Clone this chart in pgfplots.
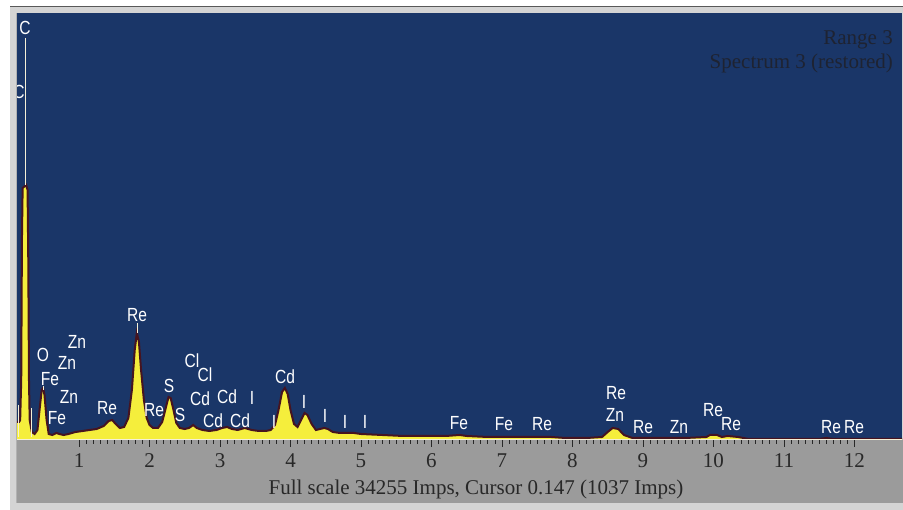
\documentclass[border=0pt]{standalone}
\usepackage{pgfplots}
\pgfplotsset{compat=1.18}
\usepackage{pgfplotstable}
\usepackage{fontspec}
\setmainfont{Liberation Serif}
\newfontfamily\lab[FakeStretch=0.82]{Liberation Sans}
\definecolor{bg}{RGB}{26,54,104}
\definecolor{yel}{RGB}{245,238,60}
\definecolor{outl}{RGB}{70,20,32}
\definecolor{panel}{RGB}{155,155,155}
\definecolor{framec}{RGB}{212,212,212}
\definecolor{txt}{RGB}{40,40,40}
\definecolor{rng}{RGB}{30,35,50}
\definecolor{cream}{RGB}{245,240,215}

\pgfplotstableread{
x y
0.12 18
0.15 18
0.165 20
0.18 60
0.19 200
0.20 252
0.25 255
0.27 250
0.28 180
0.29 60
0.30 20
0.33 8
0.37 6
0.41 10
0.44 30
0.47 50
0.49 52
0.51 45
0.54 20
0.57 6
0.62 5
0.68 7
0.72 6
0.78 5
0.85 6
0.95 8
1.05 9
1.15 10
1.25 11
1.35 14
1.42 19
1.47 20
1.52 16
1.58 12
1.64 13
1.70 22
1.75 50
1.79 90
1.82 107
1.85 98
1.88 70
1.92 40
1.96 22
2.00 15
2.05 12
2.12 12
2.18 18
2.23 32
2.27 43
2.30 42
2.34 30
2.38 17
2.43 12
2.50 11
2.56 12
2.62 15
2.67 12
2.75 10
2.85 9
2.95 10
3.03 12
3.10 13
3.17 11
3.25 10
3.35 12
3.45 10
3.55 9
3.65 9
3.72 10
3.78 15
3.83 30
3.88 48
3.92 52
3.96 46
4.00 30
4.05 16
4.10 13
4.15 20
4.20 27
4.24 25
4.30 16
4.36 10
4.42 11
4.48 12
4.53 11
4.60 8
4.70 7
4.80 7
4.90 7
5.00 6
5.30 5
5.60 4
5.90 4
6.20 4
6.40 5
6.50 4
6.80 3
7.10 3
7.40 3
7.70 3
7.90 2
8.20 2
8.42 3
8.50 8
8.57 12
8.65 11
8.73 5
8.85 2
9.20 2
9.60 2
9.90 3
9.95 5
10.05 5
10.12 3
10.20 4
10.35 3
10.50 1
11.00 1
11.50 1
11.60 2
11.70 1
12.00 1
12.675 1
}\spec

\newcommand{\lbl}[3]{\node[text=white, font=\lab\fontsize{19}{19}\selectfont, inner sep=0pt] at (#1pt,{(510-#2)*1pt}) {#3};}
\newcommand{\mk}[3]{\draw[cream, line width=1pt] (#1pt,{(510-#2)*1pt}) -- (#1pt,{(510-#3)*1pt});}

\begin{document}
\begin{tikzpicture}
\useasboundingbox (0,0) rectangle (903pt,510pt);
\fill[white] (0,0) rectangle (903pt,510pt);
\fill[framec] (10pt,0pt) rectangle (903pt,503pt);
\draw[gray!70!black, line width=1pt] (10pt,503pt) -- (903pt,503pt);
\draw[gray!60, line width=1pt] (16pt,7pt) -- (16pt,497pt);
\fill[panel] (17pt,7pt) rectangle (903pt,70pt);
\begin{axis}[
  at={(17pt,70pt)}, anchor=south west,
  scale only axis, width=885pt, height=427pt,
  xmin=0.12, xmax=12.675, ymin=0, ymax=427,
  axis background/.style={fill=bg},
  axis line style={draw=none},
  ytick=\empty,
  xtick={1,...,12}, minor x tick num=9,
  xtick pos=bottom, tick align=outside,
  major tick length=7pt, minor tick length=4pt,
  tick style={color=txt, line width=0.8pt},
  /pgf/number format/assume math mode=true,
  xticklabel style={font=\fontsize{21}{21}\selectfont, text=txt, anchor=base, yshift=-21pt},
]
\addplot[fill=yel, draw=none] table[x=x,y=y] {\spec} \closedcycle;
\addplot[outl, line width=2pt] table[x=x,y=y] {\spec};
\draw[cream, line width=1.5pt] (axis cs:0.12,0) -- (axis cs:12.675,0);
\end{axis}
\node[anchor=base east, text=rng, font=\fontsize{21}{21}\selectfont, inner sep=0pt] at (893pt,{(510-45)*1pt}) {Range 3};
\node[anchor=base east, text=rng, font=\fontsize{21}{21}\selectfont, inner sep=0pt] at (893pt,{(510-69)*1pt}) {Spectrum 3 (restored)};
\node[anchor=base, text=txt, font=\fontsize{21}{21}\selectfont, inner sep=0pt] at (476pt,{(510-495)*1pt}) {Full scale 34255 Imps, Cursor 0.147 (1037 Imps)};
\mk{25.5}{38}{185}
\mk{137}{323}{333}
\mk{18}{405}{437}
\mk{31}{408}{437}
\mk{43}{386}{390}
\begin{scope}
\clip (17pt,70pt) rectangle (903pt,497pt);
\lbl{19}{92}{C}
\end{scope}
\lbl{25}{28}{C}
\lbl{43}{355}{O}
\lbl{77}{342}{Zn}
\lbl{67}{363}{Zn}
\lbl{50}{379}{Fe}
\lbl{69}{397}{Zn}
\lbl{57}{418}{Fe}
\lbl{137}{315}{Re}
\lbl{107}{408}{Re}
\lbl{154}{410}{Re}
\lbl{169}{386}{S}
\lbl{180}{415}{S}
\lbl{192}{361}{Cl}
\lbl{205}{375}{Cl}
\lbl{200}{399}{Cd}
\lbl{227}{397}{Cd}
\lbl{213}{421}{Cd}
\lbl{240}{421}{Cd}
\lbl{252}{398}{I}
\lbl{274}{422}{I}
\lbl{285}{377}{Cd}
\lbl{304}{402}{I}
\lbl{325}{416}{I}
\lbl{345}{422}{I}
\lbl{365}{422}{I}
\lbl{459}{423}{Fe}
\lbl{504}{424}{Fe}
\lbl{542}{424}{Re}
\lbl{616}{393}{Re}
\lbl{615}{415}{Zn}
\lbl{643}{427}{Re}
\lbl{679}{427}{Zn}
\lbl{713}{410}{Re}
\lbl{731}{424}{Re}
\lbl{831}{427}{Re}
\lbl{854}{427}{Re}
\end{tikzpicture}
\end{document}
